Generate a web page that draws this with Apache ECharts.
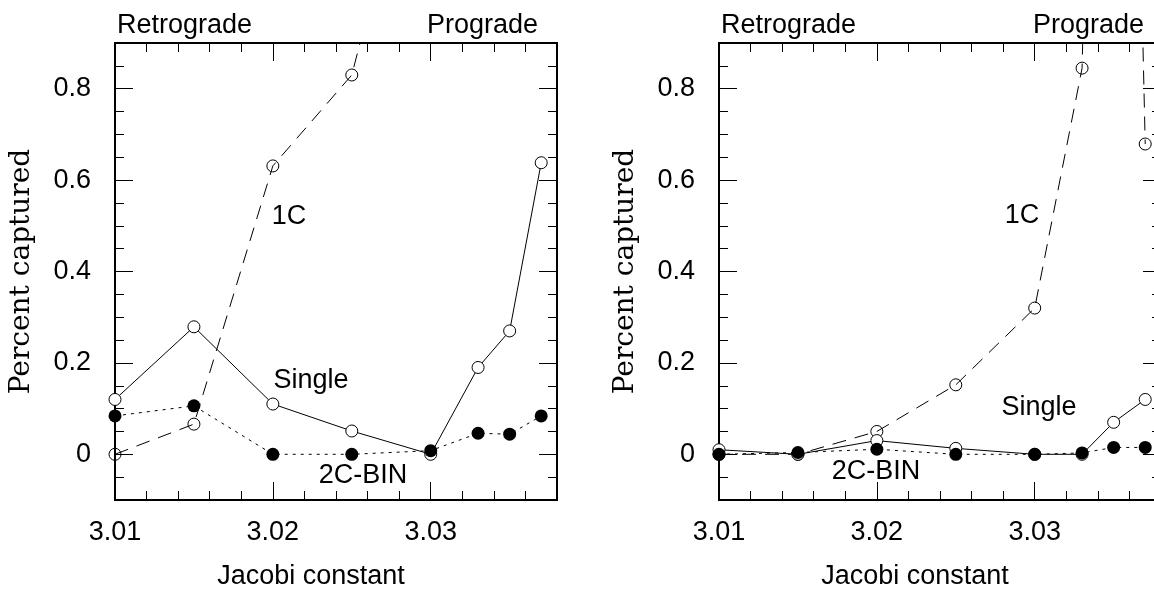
<!DOCTYPE html>
<html>
<head>
<meta charset="utf-8">
<script src="https://cdn.jsdelivr.net/npm/echarts@6/dist/echarts.min.js"></script>
<style>
  html, body { margin: 0; padding: 0; background: #fff; }
  #chart { width: 1154px; height: 592px; }
</style>
</head>
<body>
<div id="chart"></div>
<script>
// Jacobi constant values sampled
var jacobi = [3.01, 3.015, 3.02, 3.025, 3.03, 3.033, 3.035, 3.037];

// left panel
var leftSingle = [0.12, 0.279, 0.11, 0.051, 0.0, 0.19, 0.27, 0.638];
var left1C = [0.0, 0.066, 0.631, 0.83, 1.5];
var left2CBin = [0.084, 0.106, 0.0, 0.0, 0.008, 0.046, 0.044, 0.084];

// right panel
var rightSingle = [0.01, 0.0, 0.03, 0.013, 0.0, 0.0, 0.07, 0.12];
var right1C = [0.0, 0.0, 0.05, 0.152, 0.32, 0.845, 3.7, 0.679];
var right2CBin = [0.0, 0.004, 0.011, 0.0, 0.0, 0.003, 0.015, 0.015];

// axes
var xMin = 3.01, xMax = 3.038;
var yMin = -0.1, yMax = 0.9;
var xMajorTicks = [3.01, 3.02, 3.03];
var xMinorTicks = [3.012, 3.014, 3.016, 3.018, 3.022, 3.024, 3.026, 3.028, 3.032, 3.034, 3.036];
var yMajorTicks = [0, 0.2, 0.4, 0.6, 0.8];
var yMinorTicks = [-0.05, 0.05, 0.1, 0.15, 0.25, 0.3, 0.35, 0.45, 0.5, 0.55, 0.65, 0.7, 0.75, 0.85];

var SANS = '"Liberation Sans", Arial, sans-serif';
var SERIF = '"DejaVu Serif", serif';
var FS = 27;

function pairs(xs, ys) {
    var out = [];
    for (var i = 0; i < ys.length; i++) {
        out.push([xs[i], ys[i]]);
    }
    return out;
}

function tickAxis(gi, pos, vals, len, isX) {
    var ax = {
        gridIndex: gi,
        type: 'value',
        position: pos,
        min: isX ? xMin : yMin,
        max: isX ? xMax : yMax,
        axisLine: { show: false, onZero: false },
        splitLine: { show: false },
        axisTick: { show: true, inside: true, length: len, customValues: vals,
            lineStyle: { color: '#000', width: 1 } },
        axisLabel: { show: false },
        silent: true
    };
    return ax;
}

var xAxes = [], yAxes = [];
for (var g = 0; g < 2; g++) {
    var xMain = tickAxis(g, 'bottom', xMajorTicks, 18, true);
    xMain.axisLabel = {
        show: true, customValues: xMajorTicks, margin: 19,
        formatter: function (v) { return v.toFixed(2); },
        color: '#000', fontSize: FS, fontFamily: SANS
    };
    xMain.name = 'Jacobi constant';
    xMain.nameLocation = 'middle';
    xMain.nameGap = 63;
    xMain.nameTextStyle = { color: '#000', fontSize: FS, fontFamily: SANS, padding: [0, 50, 0, 0] };
    xAxes.push(xMain);
    xAxes.push(tickAxis(g, 'bottom', xMinorTicks, 9, true));
    xAxes.push(tickAxis(g, 'top', xMajorTicks, 18, true));
    xAxes.push(tickAxis(g, 'top', xMinorTicks, 9, true));

    var yMain = tickAxis(g, 'left', yMajorTicks, 18, false);
    yMain.axisLabel = {
        show: true, customValues: yMajorTicks, margin: 24,
        formatter: function (v) { return v === 0 ? '0' : String(Math.round(v * 10) / 10); },
        color: '#000', fontSize: FS, fontFamily: SANS
    };
    yMain.name = 'Percent captured';
    yMain.nameLocation = 'middle';
    yMain.nameGap = 79;
    yMain.nameTextStyle = { color: '#000', fontSize: 28, fontFamily: SERIF };
    yAxes.push(yMain);
    yAxes.push(tickAxis(g, 'left', yMinorTicks, 9, false));
    yAxes.push(tickAxis(g, 'right', yMajorTicks, 18, false));
    yAxes.push(tickAxis(g, 'right', yMinorTicks, 9, false));
}

function singleSeries(gi, data) {
    return {
        type: 'line', xAxisIndex: gi * 4, yAxisIndex: gi * 4, data: data,
        symbol: 'circle', symbolSize: 12, z: 3,
        lineStyle: { color: '#000', width: 1, type: 'solid' },
        itemStyle: { color: '#fff', borderColor: '#000', borderWidth: 1 },
        clip: true, silent: true
    };
}
function oneCSeries(gi, data) {
    return {
        type: 'line', xAxisIndex: gi * 4, yAxisIndex: gi * 4, data: data,
        symbol: 'circle', symbolSize: 12, z: 2,
        lineStyle: { color: '#000', width: 1, type: [14, 9] },
        itemStyle: { color: 'rgba(0,0,0,0)', borderColor: '#000', borderWidth: 1 },
        clip: true, silent: true
    };
}
function binSeries(gi, data) {
    return {
        type: 'line', xAxisIndex: gi * 4, yAxisIndex: gi * 4, data: data,
        symbol: 'circle', symbolSize: 13, z: 4,
        lineStyle: { color: '#000', width: 1, type: [3, 5] },
        itemStyle: { color: '#000', borderWidth: 0 },
        clip: true, silent: true
    };
}

function label(txt, x, y, align) {
    return {
        type: 'text', x: x, y: y, silent: true,
        style: { text: txt, fill: '#000', fontSize: FS, fontFamily: SANS,
            align: align || 'center', verticalAlign: 'middle' }
    };
}

var chart = echarts.init(document.getElementById('chart'), null, { renderer: 'canvas' });
var option = {
    backgroundColor: '#FFFFFF',
    animation: false,
    grid: [
        { left: 115, top: 43, width: 442, height: 457, show: true, borderColor: '#000', borderWidth: 2,
          backgroundColor: 'transparent', containLabel: false, outerBoundsMode: 'none' },
        { left: 719, top: 43, width: 442, height: 457, show: true, borderColor: '#000', borderWidth: 2,
          backgroundColor: 'transparent', containLabel: false, outerBoundsMode: 'none' }
    ],
    xAxis: xAxes,
    yAxis: yAxes,
    series: [
        oneCSeries(0, pairs(jacobi, left1C)),
        singleSeries(0, pairs(jacobi, leftSingle)),
        binSeries(0, pairs(jacobi, left2CBin)),
        oneCSeries(1, pairs(jacobi, right1C)),
        singleSeries(1, pairs(jacobi, rightSingle)),
        binSeries(1, pairs(jacobi, right2CBin))
    ],
    graphic: [
        label('Retrograde', 117, 26, 'left'),
        label('Prograde', 538, 26, 'right'),
        label('1C', 289, 217),
        label('Single', 311, 381),
        label('2C-BIN', 363, 476),
        label('Retrograde', 721, 26, 'left'),
        label('Prograde', 1144, 26, 'right'),
        label('1C', 1022, 216),
        label('Single', 1039, 408),
        label('2C-BIN', 876, 472)
    ]
};
chart.setOption(option);
</script>
</body>
</html>
